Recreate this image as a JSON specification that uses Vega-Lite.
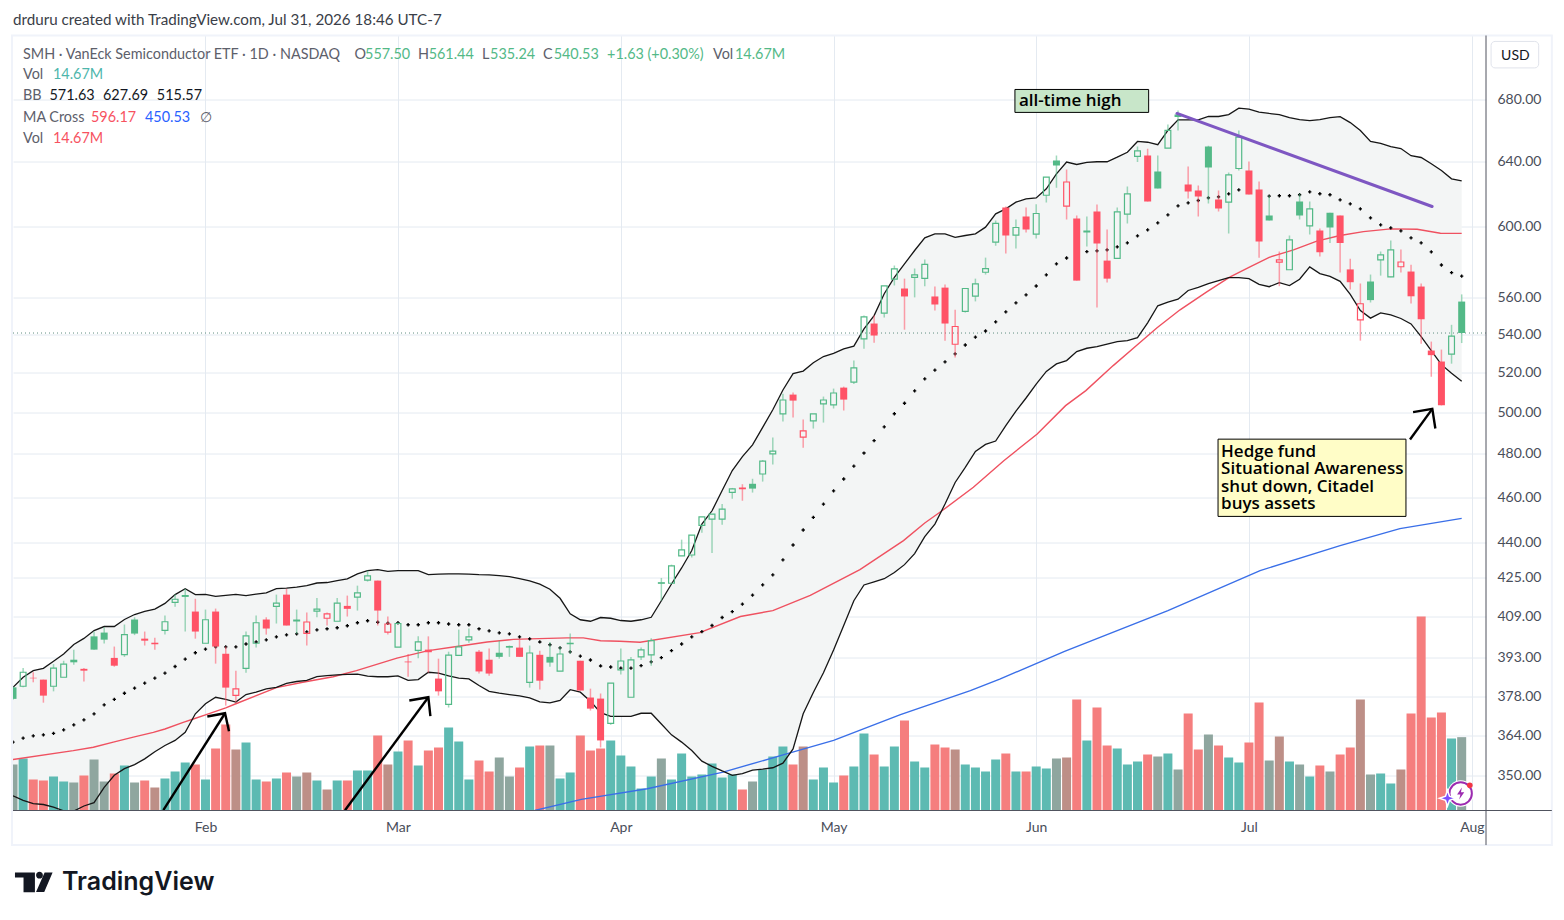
{
  "$schema": "https://vega.github.io/schema/vega-lite/v6.json",
  "background": "#ffffff",
  "autosize": {"type": "none"},
  "padding": {"left": 13, "top": 35.5, "right": 78, "bottom": 109.5},
  "width": 1473,
  "height": 775,
  "config": {"view": {"stroke": null}},
  "datasets": {
    "bars": [
      {"i":0,"open":381.6,"high":382,"low":377,"close":377.3,"dir":"up","volume":9.2,"tone":"gray","bbU":381.6,"bbL":343,"bbM":361.6},
      {"i":1,"open":382,"high":388.9,"low":381.6,"close":387.3,"dir":"up","volume":10.4,"tone":"teal","bbU":385.4,"bbL":341.5,"bbM":363},
      {"i":2,"open":385.2,"high":387.3,"low":383.5,"close":385,"dir":"down","volume":6.2,"tone":"salmon","bbU":387.9,"bbL":340.4,"bbM":363.8},
      {"i":3,"open":384.5,"high":384.5,"low":375.9,"close":378.5,"dir":"down","volume":6,"tone":"salmon","bbU":388.8,"bbL":340.1,"bbM":364.2},
      {"i":4,"open":382,"high":390.4,"low":380.1,"close":388.9,"dir":"up","volume":6.8,"tone":"teal","bbU":391.5,"bbL":339.2,"bbM":364.7},
      {"i":5,"open":385.4,"high":391.7,"low":385.4,"close":390.4,"dir":"up","volume":5.8,"tone":"teal","bbU":394.3,"bbL":338,"bbM":366},
      {"i":6,"open":392.1,"high":396,"low":390.2,"close":391.1,"dir":"up","volume":5.6,"tone":"gray","bbU":398,"bbL":337.9,"bbM":367.8},
      {"i":7,"open":388.6,"high":388.9,"low":383.8,"close":387.9,"dir":"down","volume":7,"tone":"salmon","bbU":400.4,"bbL":339.6,"bbM":369.6},
      {"i":8,"open":401.2,"high":403.1,"low":396,"close":396,"dir":"up","volume":10.2,"tone":"gray","bbU":403.5,"bbL":340.7,"bbM":371.8},
      {"i":9,"open":402.7,"high":404.8,"low":398.4,"close":399.9,"dir":"up","volume":5.8,"tone":"gray","bbU":405.1,"bbL":345.9,"bbM":375.1},
      {"i":10,"open":392.8,"high":397.2,"low":389.4,"close":389.8,"dir":"down","volume":7.4,"tone":"salmon","bbU":405.1,"bbL":350,"bbM":377.1},
      {"i":11,"open":394.1,"high":405.9,"low":393.2,"close":401.9,"dir":"up","volume":9,"tone":"teal","bbU":407.9,"bbL":352.3,"bbM":379.4},
      {"i":12,"open":407.9,"high":408.8,"low":401.7,"close":402.3,"dir":"up","volume":5.6,"tone":"gray","bbU":409.9,"bbL":353.7,"bbM":381.3},
      {"i":13,"open":400.3,"high":403.1,"low":397.6,"close":399.5,"dir":"down","volume":6,"tone":"salmon","bbU":411.2,"bbL":355.7,"bbM":383.2},
      {"i":14,"open":398.7,"high":400.7,"low":396,"close":398.1,"dir":"down","volume":4.6,"tone":"brown","bbU":412.1,"bbL":358.2,"bbM":385.1},
      {"i":15,"open":403.6,"high":409.5,"low":401.9,"close":407,"dir":"up","volume":6.4,"tone":"teal","bbU":414.4,"bbL":360.4,"bbM":387},
      {"i":16,"open":414.8,"high":418.2,"low":413,"close":416.1,"dir":"up","volume":7.8,"tone":"teal","bbU":418,"bbL":362.2,"bbM":389.5},
      {"i":17,"open":417.3,"high":420.4,"low":403.1,"close":417.6,"dir":"up","volume":9.6,"tone":"teal","bbU":420.4,"bbL":365.1,"bbM":392.3},
      {"i":18,"open":411.1,"high":416.3,"low":400.3,"close":403.1,"dir":"down","volume":9.2,"tone":"salmon","bbU":418,"bbL":371.8,"bbM":394.8},
      {"i":19,"open":398.5,"high":411.9,"low":398.5,"close":407.8,"dir":"up","volume":6.2,"tone":"teal","bbU":418.1,"bbL":375.5,"bbM":396.2},
      {"i":20,"open":411.1,"high":412.3,"low":390.6,"close":397.2,"dir":"down","volume":12.4,"tone":"salmon","bbU":417.3,"bbL":377.9,"bbM":397.1},
      {"i":21,"open":394.4,"high":397.2,"low":374.8,"close":381.5,"dir":"down","volume":17.2,"tone":"salmon","bbU":417.7,"bbL":377.1,"bbM":397.1},
      {"i":22,"open":378.6,"high":387.9,"low":376,"close":381,"dir":"down","volume":12.2,"tone":"brown","bbU":418.1,"bbL":376.1,"bbM":397.1},
      {"i":23,"open":388.8,"high":403.1,"low":387.1,"close":401.4,"dir":"up","volume":13.6,"tone":"teal","bbU":417.6,"bbL":378.9,"bbM":398.2},
      {"i":24,"open":398.5,"high":409.5,"low":396.8,"close":406.6,"dir":"up","volume":6.2,"tone":"teal","bbU":418.2,"bbL":379.8,"bbM":399},
      {"i":25,"open":407.9,"high":408.8,"low":401.9,"close":404.3,"dir":"down","volume":5.8,"tone":"salmon","bbU":418.7,"bbL":381,"bbM":399.8},
      {"i":26,"open":413.2,"high":418,"low":406.3,"close":414.5,"dir":"up","volume":6.4,"tone":"teal","bbU":420.5,"bbL":381.6,"bbM":401},
      {"i":27,"open":418,"high":420.4,"low":405.5,"close":405.5,"dir":"down","volume":7.6,"tone":"salmon","bbU":420.7,"bbL":383.1,"bbM":401.8},
      {"i":28,"open":407.9,"high":411.9,"low":402.2,"close":407.1,"dir":"up","volume":6.8,"tone":"gray","bbU":421.1,"bbL":383.8,"bbM":402.2},
      {"i":29,"open":402.4,"high":410.7,"low":397.6,"close":406.9,"dir":"down","volume":7.6,"tone":"brown","bbU":421.7,"bbL":384.2,"bbM":403},
      {"i":30,"open":411.3,"high":416.6,"low":408.8,"close":412.1,"dir":"up","volume":6,"tone":"teal","bbU":422.8,"bbL":385.6,"bbM":403.8},
      {"i":31,"open":408.4,"high":410.7,"low":405.5,"close":410.2,"dir":"down","volume":4.2,"tone":"brown","bbU":423,"bbL":386,"bbM":404.2},
      {"i":32,"open":407.2,"high":416.6,"low":407.2,"close":414.5,"dir":"up","volume":6,"tone":"teal","bbU":423.8,"bbL":386.3,"bbM":404.6},
      {"i":33,"open":413.4,"high":417.6,"low":409.1,"close":412.2,"dir":"down","volume":6,"tone":"salmon","bbU":424.5,"bbL":386.5,"bbM":405.4},
      {"i":34,"open":417,"high":421.7,"low":411.5,"close":418.7,"dir":"up","volume":8,"tone":"teal","bbU":426.6,"bbL":386.6,"bbM":406.6},
      {"i":35,"open":424,"high":428,"low":423.4,"close":425.8,"dir":"up","volume":8,"tone":"teal","bbU":428,"bbL":385.8,"bbM":407.4},
      {"i":36,"open":423.8,"high":423.8,"low":405.5,"close":411.5,"dir":"down","volume":15,"tone":"salmon","bbU":428.4,"bbL":385.6,"bbM":406.8},
      {"i":37,"open":402.9,"high":409.1,"low":401.9,"close":406.1,"dir":"down","volume":9.2,"tone":"brown","bbU":427.7,"bbL":385.6,"bbM":406.4},
      {"i":38,"open":397,"high":406.8,"low":397,"close":406.3,"dir":"up","volume":11.8,"tone":"teal","bbU":428,"bbL":385.9,"bbM":406.6},
      {"i":39,"open":391.4,"high":394.3,"low":385.6,"close":391.1,"dir":"down","volume":14,"tone":"salmon","bbU":428,"bbL":384.2,"bbM":405.8},
      {"i":40,"open":395.7,"high":401.2,"low":392.7,"close":399,"dir":"up","volume":9,"tone":"teal","bbU":428,"bbL":384.5,"bbM":405.8},
      {"i":41,"open":396,"high":401.2,"low":387.1,"close":395,"dir":"down","volume":12,"tone":"salmon","bbU":426.3,"bbL":387.3,"bbM":406.6},
      {"i":42,"open":384.9,"high":392.5,"low":378.5,"close":380.1,"dir":"down","volume":12.6,"tone":"salmon","bbU":426.5,"bbL":387,"bbM":406.6},
      {"i":43,"open":375.3,"high":395.2,"low":374.1,"close":393.9,"dir":"up","volume":16.6,"tone":"teal","bbU":426.6,"bbL":385.9,"bbM":406.1},
      {"i":44,"open":393.8,"high":403.9,"low":393.8,"close":397.1,"dir":"up","volume":13.8,"tone":"teal","bbU":426.6,"bbL":385.1,"bbM":405.8},
      {"i":45,"open":399.8,"high":404.3,"low":398.7,"close":401,"dir":"up","volume":6.2,"tone":"teal","bbU":426.5,"bbL":384.8,"bbM":405.8},
      {"i":46,"open":395.2,"high":395.9,"low":386.8,"close":387.6,"dir":"down","volume":10,"tone":"salmon","bbU":426.3,"bbL":382.3,"bbM":404.2},
      {"i":47,"open":392.1,"high":396.4,"low":386,"close":386.8,"dir":"down","volume":7.8,"tone":"salmon","bbU":426.2,"bbL":380.1,"bbM":403.4},
      {"i":48,"open":394.8,"high":399.5,"low":392.5,"close":393.2,"dir":"up","volume":10.6,"tone":"gray","bbU":425.9,"bbL":379.4,"bbM":402.6},
      {"i":49,"open":397,"high":397.6,"low":393.2,"close":397.2,"dir":"up","volume":6.8,"tone":"gray","bbU":425.5,"bbL":378.9,"bbM":402.2},
      {"i":50,"open":396.8,"high":399.9,"low":393.2,"close":393.2,"dir":"down","volume":8.6,"tone":"salmon","bbU":424.6,"bbL":378.4,"bbM":401},
      {"i":51,"open":383.5,"high":397.6,"low":381.5,"close":394.7,"dir":"up","volume":12.8,"tone":"teal","bbU":423.7,"bbL":377.7,"bbM":400.2},
      {"i":52,"open":394,"high":395.6,"low":380.8,"close":384.1,"dir":"down","volume":13,"tone":"salmon","bbU":422.3,"bbL":376.2,"bbM":399},
      {"i":53,"open":393.2,"high":399,"low":389.4,"close":391,"dir":"up","volume":13,"tone":"gray","bbU":420.2,"bbL":375.8,"bbM":397.9},
      {"i":54,"open":387.7,"high":397.2,"low":387.7,"close":394.3,"dir":"up","volume":6.4,"tone":"teal","bbU":416.5,"bbL":376.7,"bbM":396.7},
      {"i":55,"open":398.7,"high":402.3,"low":394.4,"close":398.1,"dir":"up","volume":7.6,"tone":"teal","bbU":410.2,"bbL":380.7,"bbM":395.1},
      {"i":56,"open":391.7,"high":391.7,"low":380.4,"close":380.4,"dir":"down","volume":15,"tone":"salmon","bbU":407.8,"bbL":379.8,"bbM":393.5},
      {"i":57,"open":377.8,"high":381.1,"low":373,"close":373.7,"dir":"down","volume":12,"tone":"salmon","bbU":407.2,"bbL":376.4,"bbM":392},
      {"i":58,"open":377.4,"high":379.3,"low":359.7,"close":362.2,"dir":"down","volume":12.4,"tone":"salmon","bbU":408.7,"bbL":372.2,"bbM":389.7},
      {"i":59,"open":368.3,"high":383.2,"low":367.8,"close":383.2,"dir":"up","volume":14,"tone":"teal","bbU":408.4,"bbL":370.9,"bbM":389.3},
      {"i":60,"open":388.2,"high":396.4,"low":386.4,"close":391.6,"dir":"up","volume":11,"tone":"teal","bbU":407.5,"bbL":370.9,"bbM":388.9},
      {"i":61,"open":377.9,"high":393.1,"low":377.9,"close":392,"dir":"up","volume":8.8,"tone":"teal","bbU":407.2,"bbL":370.9,"bbM":388.9},
      {"i":62,"open":393.2,"high":396.8,"low":392,"close":395.9,"dir":"up","volume":4.4,"tone":"teal","bbU":407.8,"bbL":372,"bbM":389.8},
      {"i":63,"open":394,"high":400.5,"low":389.8,"close":399.5,"dir":"up","volume":6.8,"tone":"teal","bbU":408.8,"bbL":372,"bbM":391.3},
      {"i":64,"open":422.7,"high":424.9,"low":415.5,"close":422.9,"dir":"up","volume":10.4,"tone":"gray","bbU":415.5,"bbL":368.1,"bbM":392.9},
      {"i":65,"open":422.7,"high":430.5,"low":422.7,"close":430,"dir":"up","volume":6.2,"tone":"teal","bbU":422.4,"bbL":364.2,"bbM":395.6},
      {"i":66,"open":434.2,"high":441.2,"low":434.2,"close":436.8,"dir":"up","volume":11.4,"tone":"teal","bbU":429.1,"bbL":361.6,"bbM":398.2},
      {"i":67,"open":434.6,"high":443.2,"low":433.5,"close":443.2,"dir":"up","volume":6.8,"tone":"teal","bbU":436.5,"bbL":358.6,"bbM":401},
      {"i":68,"open":447.4,"high":451.2,"low":444.2,"close":451.2,"dir":"up","volume":7.2,"tone":"teal","bbU":448,"bbL":354.9,"bbM":403.1},
      {"i":69,"open":450.2,"high":452.4,"low":435.4,"close":452.4,"dir":"up","volume":9.4,"tone":"teal","bbU":453.9,"bbL":353.1,"bbM":405.5},
      {"i":70,"open":450.2,"high":456.9,"low":447.7,"close":454.6,"dir":"up","volume":6.6,"tone":"teal","bbU":463,"bbL":351.5,"bbM":408.7},
      {"i":71,"open":462.2,"high":464.2,"low":459.3,"close":463.8,"dir":"up","volume":7.2,"tone":"teal","bbU":472.2,"bbL":350,"bbM":411.1},
      {"i":72,"open":464.4,"high":465.9,"low":458.4,"close":463.6,"dir":"down","volume":4.2,"tone":"salmon","bbU":478.7,"bbL":350.6,"bbM":414.1},
      {"i":73,"open":466.1,"high":468.4,"low":462.1,"close":463.9,"dir":"up","volume":5.8,"tone":"gray","bbU":484.3,"bbL":351.8,"bbM":417.8},
      {"i":74,"open":470.6,"high":477.1,"low":467.1,"close":476.6,"dir":"up","volume":8.2,"tone":"teal","bbU":492.7,"bbL":352.1,"bbM":422},
      {"i":75,"open":480,"high":487.8,"low":475,"close":481.3,"dir":"up","volume":10.8,"tone":"teal","bbU":501.3,"bbL":352.6,"bbM":426.2},
      {"i":76,"open":499.2,"high":509.2,"low":495.5,"close":506.1,"dir":"up","volume":12.8,"tone":"teal","bbU":511.1,"bbL":354.2,"bbM":432.5},
      {"i":77,"open":508.8,"high":509.8,"low":497.5,"close":505.8,"dir":"down","volume":9.2,"tone":"salmon","bbU":519.4,"bbL":359.2,"bbM":438.9},
      {"i":78,"open":488,"high":496.5,"low":482.9,"close":491,"dir":"down","volume":12.8,"tone":"brown","bbU":520.7,"bbL":371.8,"bbM":445.4},
      {"i":79,"open":495.8,"high":499.2,"low":492.1,"close":499.2,"dir":"up","volume":6.2,"tone":"teal","bbU":525,"bbL":379.7,"bbM":451},
      {"i":80,"open":504.2,"high":507.8,"low":495,"close":506.1,"dir":"up","volume":8.6,"tone":"teal","bbU":528.2,"bbL":387.1,"bbM":456.9},
      {"i":81,"open":503.7,"high":511.8,"low":501.9,"close":509.6,"dir":"up","volume":5.6,"tone":"teal","bbU":529.8,"bbL":395.9,"bbM":462.9},
      {"i":82,"open":512.3,"high":512.8,"low":500.9,"close":506.3,"dir":"down","volume":7,"tone":"salmon","bbU":532.2,"bbL":405.5,"bbM":468.3},
      {"i":83,"open":515.1,"high":526.1,"low":514.1,"close":522.3,"dir":"up","volume":8.8,"tone":"teal","bbU":533.6,"bbL":415.5,"bbM":474.3},
      {"i":84,"open":537.4,"high":549.9,"low":532.3,"close":549.2,"dir":"up","volume":15.4,"tone":"teal","bbU":542.7,"bbL":422,"bbM":480.4},
      {"i":85,"open":545.6,"high":549.9,"low":535.4,"close":539.2,"dir":"down","volume":11.2,"tone":"salmon","bbU":549.9,"bbL":423.3,"bbM":486.3},
      {"i":86,"open":551.2,"high":566.2,"low":548.8,"close":566.2,"dir":"up","volume":8.8,"tone":"teal","bbU":561.8,"bbL":424.6,"bbM":492.9},
      {"i":87,"open":569.9,"high":577.6,"low":566.4,"close":575.7,"dir":"up","volume":12.8,"tone":"teal","bbU":570.9,"bbL":427.2,"bbM":499.3},
      {"i":88,"open":564.7,"high":570.2,"low":542.3,"close":560.3,"dir":"down","volume":18,"tone":"salmon","bbU":578.5,"bbL":430.5,"bbM":504.5},
      {"i":89,"open":570.9,"high":575.9,"low":559.8,"close":572.3,"dir":"up","volume":9.8,"tone":"teal","bbU":586.2,"bbL":435.2,"bbM":510.7},
      {"i":90,"open":570.4,"high":581,"low":566,"close":578.2,"dir":"up","volume":8.6,"tone":"teal","bbU":593.5,"bbL":442.5,"bbM":516.7},
      {"i":91,"open":560.3,"high":565.8,"low":552.6,"close":555.9,"dir":"down","volume":13.2,"tone":"salmon","bbU":595.9,"bbL":448,"bbM":521.2},
      {"i":92,"open":565.2,"high":566.9,"low":536.5,"close":545.6,"dir":"down","volume":12.6,"tone":"salmon","bbU":595.9,"bbL":456.9,"bbM":525.4},
      {"i":93,"open":534.6,"high":553.1,"low":527.7,"close":544,"dir":"down","volume":12.2,"tone":"brown","bbU":593.8,"bbL":466.7,"bbM":529.6},
      {"i":94,"open":552.2,"high":564.7,"low":551.5,"close":564.7,"dir":"up","volume":9.2,"tone":"teal","bbU":594.9,"bbL":473.7,"bbM":534.2},
      {"i":95,"open":560.5,"high":570.2,"low":557.6,"close":567.3,"dir":"up","volume":8.6,"tone":"teal","bbU":595.9,"bbL":481.2,"bbM":538.4},
      {"i":96,"open":573.8,"high":582.1,"low":572.5,"close":575.9,"dir":"up","volume":7.8,"tone":"teal","bbU":599.8,"bbL":484.5,"bbM":541.6},
      {"i":97,"open":591,"high":603.7,"low":589,"close":602,"dir":"up","volume":10.2,"tone":"teal","bbU":607.7,"bbL":486.1,"bbM":546.5},
      {"i":98,"open":611.5,"high":612.1,"low":584.4,"close":594.9,"dir":"down","volume":11.4,"tone":"salmon","bbU":610.7,"bbL":493.5,"bbM":551.9},
      {"i":99,"open":595.1,"high":604.3,"low":587.4,"close":599.6,"dir":"up","volume":7.8,"tone":"teal","bbU":614.7,"bbL":500.6,"bbM":556.8},
      {"i":100,"open":606.1,"high":611.5,"low":596.6,"close":598.4,"dir":"down","volume":7.8,"tone":"salmon","bbU":616.7,"bbL":507.1,"bbM":561.2},
      {"i":101,"open":595.7,"high":613.4,"low":593.2,"close":607.9,"dir":"up","volume":8.8,"tone":"teal","bbU":617.3,"bbL":514.1,"bbM":566.1},
      {"i":102,"open":618.9,"high":630,"low":614.5,"close":630,"dir":"up","volume":8.4,"tone":"teal","bbU":622.8,"bbL":520.5,"bbM":572.3},
      {"i":103,"open":640.4,"high":643.5,"low":623.5,"close":637.2,"dir":"up","volume":10.4,"tone":"gray","bbU":632,"bbL":524.4,"bbM":578.5},
      {"i":104,"open":612.3,"high":634.7,"low":604.3,"close":627,"dir":"down","volume":10.6,"tone":"brown","bbU":639.4,"bbL":526.1,"bbM":581.9},
      {"i":105,"open":604.9,"high":606.7,"low":569.1,"close":569.1,"dir":"down","volume":22.2,"tone":"salmon","bbU":637.9,"bbL":530.8,"bbM":583.3},
      {"i":106,"open":597.8,"high":606.1,"low":588.5,"close":596.6,"dir":"up","volume":14,"tone":"teal","bbU":639.2,"bbL":532.5,"bbM":585.5},
      {"i":107,"open":609.1,"high":613.3,"low":554.3,"close":590.2,"dir":"down","volume":20.6,"tone":"salmon","bbU":639.6,"bbL":533.3,"bbM":586},
      {"i":108,"open":580.4,"high":598.4,"low":568,"close":570.2,"dir":"down","volume":13,"tone":"salmon","bbU":639.6,"bbL":534.7,"bbM":586.6},
      {"i":109,"open":581.7,"high":611.5,"low":581.7,"close":608.9,"dir":"up","volume":12.4,"tone":"teal","bbU":642.5,"bbL":536,"bbM":588.3},
      {"i":110,"open":607.5,"high":624.2,"low":602,"close":619.7,"dir":"up","volume":9.2,"tone":"teal","bbU":645.6,"bbL":536.5,"bbM":590.6},
      {"i":111,"open":643,"high":649.3,"low":639.4,"close":646.5,"dir":"up","volume":9.8,"tone":"teal","bbU":652.5,"bbL":538.1,"bbM":594.7},
      {"i":112,"open":643.5,"high":647.9,"low":615.1,"close":615.1,"dir":"down","volume":11.2,"tone":"salmon","bbU":652,"bbL":546,"bbM":598.2},
      {"i":113,"open":633.5,"high":643.5,"low":623,"close":623,"dir":"up","volume":10.8,"tone":"gray","bbU":650.4,"bbL":555.2,"bbM":602.3},
      {"i":114,"open":648.2,"high":663.5,"low":648.2,"close":659.6,"dir":"up","volume":11.4,"tone":"teal","bbU":659.6,"bbL":557.2,"bbM":607.1},
      {"i":115,"open":670,"high":672.7,"low":659.6,"close":668.3,"dir":"up","volume":8.2,"tone":"gray","bbU":666.5,"bbL":558.8,"bbM":612.5},
      {"i":116,"open":625.4,"high":636.6,"low":616.9,"close":621.2,"dir":"down","volume":19.4,"tone":"salmon","bbU":666.5,"bbL":563.6,"bbM":614.3},
      {"i":117,"open":621.8,"high":624.8,"low":606.1,"close":618.2,"dir":"down","volume":12.2,"tone":"salmon","bbU":666.5,"bbL":565.3,"bbM":615.7},
      {"i":118,"open":649.2,"high":649.8,"low":613.9,"close":636,"dir":"up","volume":15.2,"tone":"gray","bbU":668.7,"bbL":567.4,"bbM":617.3},
      {"i":119,"open":616.3,"high":621.8,"low":609.1,"close":610.9,"dir":"down","volume":13,"tone":"salmon","bbU":668.7,"bbL":569.1,"bbM":617.9},
      {"i":120,"open":614.7,"high":632.9,"low":596.1,"close":631.4,"dir":"up","volume":10.6,"tone":"teal","bbU":670,"bbL":570.8,"bbM":619.7},
      {"i":121,"open":635.4,"high":659.6,"low":634.1,"close":655.3,"dir":"up","volume":9.6,"tone":"teal","bbU":674.2,"bbL":570.8,"bbM":622.2},
      {"i":122,"open":634.1,"high":639.8,"low":619.4,"close":619.4,"dir":"down","volume":13.6,"tone":"salmon","bbU":673.6,"bbL":570.2,"bbM":622.6},
      {"i":123,"open":622.4,"high":627.3,"low":582.1,"close":591.4,"dir":"down","volume":21.6,"tone":"salmon","bbU":671.6,"bbL":567,"bbM":620},
      {"i":124,"open":606.7,"high":618.7,"low":603.7,"close":603.7,"dir":"up","volume":10,"tone":"gray","bbU":670.7,"bbL":565.7,"bbM":618.4},
      {"i":125,"open":579.5,"high":585.6,"low":566,"close":580.8,"dir":"down","volume":14.8,"tone":"brown","bbU":670,"bbL":568,"bbM":618.6},
      {"i":126,"open":575.2,"high":594.9,"low":575.2,"close":592.4,"dir":"up","volume":9.8,"tone":"teal","bbU":668,"bbL":566.3,"bbM":618.6},
      {"i":127,"open":615.1,"high":620,"low":604.3,"close":606.7,"dir":"up","volume":9.2,"tone":"gray","bbU":666.7,"bbL":569.9,"bbM":619.2},
      {"i":128,"open":600.6,"high":615.1,"low":595.5,"close":610.7,"dir":"up","volume":6.8,"tone":"teal","bbU":666,"bbL":576.8,"bbM":621},
      {"i":129,"open":597.8,"high":599,"low":582.7,"close":585.2,"dir":"down","volume":9,"tone":"salmon","bbU":666.7,"bbL":573,"bbM":619.8},
      {"i":130,"open":608.3,"high":608.3,"low":590.5,"close":599.6,"dir":"up","volume":7.8,"tone":"gray","bbU":668,"bbL":571.5,"bbM":619.2},
      {"i":131,"open":606.7,"high":606.7,"low":573.7,"close":590.5,"dir":"down","volume":11.2,"tone":"salmon","bbU":668.6,"bbL":568.7,"bbM":616.1},
      {"i":132,"open":575.4,"high":581.5,"low":564.2,"close":568.2,"dir":"down","volume":12.6,"tone":"salmon","bbU":664.7,"bbL":561.4,"bbM":613.7},
      {"i":133,"open":547.6,"high":567.5,"low":536.5,"close":556.3,"dir":"down","volume":22.2,"tone":"brown","bbU":659.6,"bbL":552.6,"bbM":610.7},
      {"i":134,"open":568.6,"high":572.5,"low":557,"close":558.3,"dir":"up","volume":7.2,"tone":"gray","bbU":652.5,"bbL":548.5,"bbM":605.3},
      {"i":135,"open":580.8,"high":585.6,"low":571.9,"close":583.7,"dir":"up","volume":7.4,"tone":"teal","bbU":651.2,"bbL":551.3,"bbM":601.1},
      {"i":136,"open":571.2,"high":592,"low":571,"close":586.6,"dir":"up","volume":5.4,"tone":"teal","bbU":649.2,"bbL":550.2,"bbM":599.4},
      {"i":137,"open":576.9,"high":586.8,"low":573.7,"close":579.6,"dir":"down","volume":8.2,"tone":"brown","bbU":648,"bbL":548.3,"bbM":597.6},
      {"i":138,"open":574.2,"high":578.1,"low":556.5,"close":560.4,"dir":"down","volume":19.4,"tone":"salmon","bbU":643.4,"bbL":545.4,"bbM":593.5},
      {"i":139,"open":565.8,"high":567.5,"low":534.9,"close":547.9,"dir":"down","volume":38.8,"tone":"salmon","bbU":642.3,"bbL":538.6,"bbM":590.6},
      {"i":140,"open":531.3,"high":536,"low":517.8,"close":528.9,"dir":"down","volume":18.6,"tone":"salmon","bbU":638.4,"bbL":531.3,"bbM":585.4},
      {"i":141,"open":525.6,"high":531.8,"low":503.4,"close":503.5,"dir":"down","volume":19.6,"tone":"salmon","bbU":634.1,"bbL":524,"bbM":577.9},
      {"i":142,"open":529.4,"high":544.9,"low":524.5,"close":538.9,"dir":"up","volume":14.4,"tone":"teal","bbU":629,"bbL":519.6,"bbM":573.6},
      {"i":143,"open":557.5,"high":561.44,"low":535.24,"close":540.53,"dir":"up","volume":14.67,"tone":"gray","bbU":627.69,"bbL":515.57,"bbM":571.63}
    ],
    "ma50": [
      {"i":0,"value":355.5},{"i":5.95,"value":358.6},{"i":7.93,"value":359.8},{"i":9.9,"value":361.6},{"i":11.88,"value":363.4},{"i":13.85,"value":365.1},{"i":15,"value":366.3},{"i":16.8,"value":368.7},{"i":17.8,"value":369.9},{"i":19,"value":371.4},{"i":21,"value":374},{"i":22,"value":375.5},{"i":26,"value":381.5},{"i":28.6,"value":383.5},{"i":31.6,"value":385.6},{"i":33.9,"value":387.9},{"i":37.9,"value":392.7},{"i":41,"value":395.6},{"i":43.8,"value":397.2},{"i":46.8,"value":399},{"i":49.4,"value":400},{"i":51,"value":400.2},{"i":54.7,"value":400.6},{"i":56.3,"value":400.6},{"i":58,"value":399.5},{"i":59.9,"value":399.3},{"i":61.9,"value":398.9},{"i":67.8,"value":402.7},{"i":71.8,"value":409.1},{"i":75,"value":411.5},{"i":78.7,"value":417.7},{"i":83.6,"value":428.4},{"i":87.9,"value":440.8},{"i":90,"value":448.5},{"i":91.7,"value":453.9},{"i":94.8,"value":464.5},{"i":97.8,"value":476.8},{"i":101.1,"value":489.5},{"i":103.9,"value":503.3},{"i":105.9,"value":510.8},{"i":108.6,"value":523.5},{"i":110.9,"value":533.9},{"i":112.9,"value":543.2},{"i":115.2,"value":553},{"i":117.8,"value":562.7},{"i":120.1,"value":571},{"i":122.1,"value":576.9},{"i":124,"value":582.3},{"i":126.4,"value":586.6},{"i":128.7,"value":591.6},{"i":131,"value":594.9},{"i":133.3,"value":597.2},{"i":136,"value":598.8},{"i":138.6,"value":598.6},{"i":140.9,"value":596.2},{"i":143,"value":596.17}
    ],
    "ma200": [
      {"i":51.5,"value":338.1},{"i":56.1,"value":341.8},{"i":62.6,"value":345.4},{"i":70.1,"value":351.1},{"i":76.7,"value":357.8},{"i":81,"value":362.2},{"i":87.6,"value":371.5},{"i":94.5,"value":380.4},{"i":97.4,"value":384.7},{"i":103.8,"value":395.3},{"i":114,"value":411.5},{"i":123.1,"value":428},{"i":131,"value":438.6},{"i":136.9,"value":446},{"i":143,"value":450.53}
    ],
    "arrows": [
      {"path":"a","seq":0,"i":14.84,"price":338.2},{"path":"a","seq":1,"i":20.93,"price":372},
      {"path":"ah","seq":0,"i":19.18,"price":370.8},{"path":"ah","seq":1,"i":20.93,"price":372},{"path":"ah","seq":2,"i":21.32,"price":365.5},
      {"path":"b","seq":0,"i":32.77,"price":338.2},{"path":"b","seq":1,"i":41,"price":377.9},
      {"path":"bh","seq":0,"i":39.12,"price":376.7},{"path":"bh","seq":1,"i":41,"price":377.9},{"path":"bh","seq":2,"i":41.2,"price":371},
      {"path":"c","seq":0,"i":137.9,"price":486.8},{"path":"c","seq":1,"i":140.1,"price":501.7},
      {"path":"ch","seq":0,"i":138.2,"price":500.1},{"path":"ch","seq":1,"i":140.1,"price":501.7},{"path":"ch","seq":2,"i":140.4,"price":492.1}
    ],
    "notes": [
      {"i":0.99,"price":710.7,"label":"SMH · VanEck Semiconductor ETF · 1D · NASDAQ","role":"gray"},
      {"i":33.72,"price":710.7,"label":"O","role":"gray"},
      {"i":34.75,"price":710.7,"label":"557.50","role":"green"},
      {"i":39.98,"price":710.7,"label":"H","role":"gray"},
      {"i":41.03,"price":710.7,"label":"561.44","role":"green"},
      {"i":46.3,"price":710.7,"label":"L","role":"gray"},
      {"i":47.09,"price":710.7,"label":"535.24","role":"green"},
      {"i":52.32,"price":710.7,"label":"C","role":"gray"},
      {"i":53.37,"price":710.7,"label":"540.53","role":"green"},
      {"i":58.64,"price":710.7,"label":"+1.63 (+0.30%)","role":"green"},
      {"i":69.1,"price":710.7,"label":"Vol","role":"gray"},
      {"i":71.27,"price":710.7,"label":"14.67M","role":"green"},
      {"i":0.99,"price":696.2,"label":"Vol","role":"gray"},
      {"i":3.95,"price":696.2,"label":"14.67M","role":"teal"},
      {"i":0.99,"price":682,"label":"BB","role":"gray"},
      {"i":3.6,"price":682,"label":"571.63","role":"black"},
      {"i":8.88,"price":682,"label":"627.69","role":"black"},
      {"i":14.2,"price":682,"label":"515.57","role":"black"},
      {"i":0.99,"price":668,"label":"MA Cross","role":"gray"},
      {"i":7.7,"price":668,"label":"596.17","role":"red"},
      {"i":13.03,"price":668,"label":"450.53","role":"blue"},
      {"i":18.46,"price":668,"label":"∅","role":"gray"},
      {"i":0.99,"price":654,"label":"Vol","role":"gray"},
      {"i":3.95,"price":654,"label":"14.67M","role":"red"}
    ]
  },
  "encoding": {
    "x": {
      "field": "i", "type": "quantitative",
      "scale": {"domain": [0, 145.4], "nice": false, "zero": false, "padding": 0},
      "axis": {
        "title": null, "orient": "bottom", "values": [19, 38, 60, 81, 101, 122, 144],
        "labelExpr": "datum.value==19?'Feb':datum.value==38?'Mar':datum.value==60?'Apr':datum.value==81?'May':datum.value==101?'Jun':datum.value==122?'Jul':'Aug'",
        "domain": false, "ticks": false, "grid": true, "gridColor": "#e4eaf1", "gridWidth": 1,
        "labelFont": "Lato", "labelFontSize": 14, "labelColor": "#4a4e5a", "labelPadding": 10, "labelFlush": false
      }
    }
  },
  "resolve": {"scale": {"y": "independent"}},
  "layer": [
    {
      "data": {"name": "bars"},
      "mark": {"type": "area", "color": "#f3f5f5", "clip": true},
      "encoding": {
        "y": {
          "field": "bbU", "type": "quantitative",
          "scale": {"type": "log", "domain": [338.1, 724.1], "nice": false},
          "axis": {
            "title": null, "orient": "right", "values": [350, 364, 378, 393, 409, 425, 440, 460, 480, 500, 520, 540, 560, 600, 640, 680],
            "format": ".2f", "domain": false, "ticks": false, "grid": true, "gridColor": "#e4eaf1", "gridWidth": 1,
            "labelFont": "Lato", "labelFontSize": 14, "labelColor": "#4a4e5a", "labelPadding": 11
          }
        },
        "y2": {"field": "bbL"}
      }
    },
    {
      "data": {"name": "bars"},
      "mark": {"type": "bar", "orient": "vertical", "size": 9, "clip": true},
      "encoding": {
        "y": {"field": "volume", "type": "quantitative", "stack": null, "scale": {"domain": [0, 155], "nice": false}, "axis": null},
        "fill": {
          "field": "tone", "type": "nominal", "legend": null,
          "scale": {"domain": ["teal", "salmon", "gray", "brown"], "range": ["#5dbab2", "#f57e7e", "#8fa69f", "#bd8f87"]}
        }
      }
    },
    {
      "layer": [
        {
          "data": {"name": "ma50"},
          "mark": {"type": "line", "color": "#ef5160", "strokeWidth": 1.4, "clip": true},
          "encoding": {
            "y": {"field": "value", "type": "quantitative", "scale": {"type": "log", "domain": [338.1, 724.1], "nice": false}, "axis": null}
          }
        },
        {
          "data": {"name": "ma200"},
          "mark": {"type": "line", "color": "#3a6fe8", "strokeWidth": 1.4, "clip": true},
          "encoding": {"y": {"field": "value", "type": "quantitative", "axis": null}}
        },
        {
          "data": {"values": [{"i": 0, "i2": 145.4, "lastClose": 540.53}]},
          "mark": {"type": "rule", "color": "#5f8d80", "strokeWidth": 1, "strokeDash": [1, 3]},
          "encoding": {
            "x2": {"field": "i2"},
            "y": {"field": "lastClose", "type": "quantitative", "axis": null}
          }
        },
        {
          "data": {"name": "bars"},
          "mark": {"type": "line", "color": "#161616", "strokeWidth": 1.3, "clip": true},
          "encoding": {"y": {"field": "bbU", "type": "quantitative", "axis": null}}
        },
        {
          "data": {"name": "bars"},
          "mark": {"type": "line", "color": "#161616", "strokeWidth": 1.3, "clip": true},
          "encoding": {"y": {"field": "bbL", "type": "quantitative", "axis": null}}
        },
        {
          "data": {"name": "bars"},
          "mark": {"type": "point", "shape": "cross", "filled": true, "color": "#000000", "size": 11, "opacity": 1, "clip": true},
          "encoding": {"y": {"field": "bbM", "type": "quantitative", "axis": null}}
        },
        {
          "data": {"name": "bars"},
          "transform": [{"filter": "datum.close < datum.open"}],
          "mark": {"type": "rule", "strokeWidth": 1.5, "opacity": 0.55, "clip": true},
          "encoding": {
            "y": {"field": "high", "type": "quantitative", "axis": null},
            "y2": {"field": "low"},
            "color": {"field": "dir", "type": "nominal", "legend": null, "scale": {"domain": ["up", "down", "dark", "gray", "green", "teal", "black", "red", "blue"], "range": ["#53b987", "#ff5266", "#3a3e48", "#5d606b", "#53b987", "#4db6ac", "#131722", "#f7525f", "#2962ff"]}}
          }
        },
        {
          "data": {"name": "bars"},
          "transform": [{"filter": "datum.close >= datum.open"}],
          "mark": {"type": "rule", "strokeWidth": 1.5, "opacity": 0.55, "clip": true},
          "encoding": {
            "y": {"field": "high", "type": "quantitative", "axis": null},
            "y2": {"field": "close"},
            "color": {"field": "dir", "type": "nominal", "legend": null}
          }
        },
        {
          "data": {"name": "bars"},
          "transform": [{"filter": "datum.close >= datum.open"}],
          "mark": {"type": "rule", "strokeWidth": 1.5, "opacity": 0.55, "clip": true},
          "encoding": {
            "y": {"field": "open", "type": "quantitative", "axis": null},
            "y2": {"field": "low"},
            "color": {"field": "dir", "type": "nominal", "legend": null}
          }
        },
        {
          "data": {"name": "bars"},
          "transform": [{"filter": "datum.close < datum.open"}],
          "mark": {"type": "bar", "orient": "vertical", "size": 7, "clip": true},
          "encoding": {
            "y": {"field": "open", "type": "quantitative", "axis": null},
            "y2": {"field": "close"},
            "color": {"field": "dir", "type": "nominal", "legend": null}
          }
        },
        {
          "data": {"name": "bars"},
          "transform": [{"filter": "datum.close >= datum.open"}],
          "mark": {"type": "bar", "orient": "vertical", "size": 5.8, "fill": "transparent", "strokeWidth": 1.2, "clip": true},
          "encoding": {
            "y": {"field": "open", "type": "quantitative", "axis": null},
            "y2": {"field": "close"},
            "stroke": {"field": "dir", "type": "nominal", "legend": null, "scale": {"domain": ["up", "down"], "range": ["#53b987", "#ff5266"]}}
          }
        },
        {
          "data": {"values": [{"seq": 0, "i": 114.9, "price": 670.7}, {"seq": 1, "i": 140.08, "price": 612.1}]},
          "mark": {"type": "line", "color": "#7e57c2", "strokeWidth": 3, "strokeCap": "round"},
          "encoding": {
            "y": {"field": "price", "type": "quantitative", "axis": null},
            "order": {"field": "seq"}
          }
        },
        {
          "data": {"name": "arrows"},
          "mark": {"type": "line", "color": "#000000", "strokeWidth": 2.4, "clip": true},
          "encoding": {
            "y": {"field": "price", "type": "quantitative", "axis": null},
            "detail": {"field": "path"},
            "order": {"field": "seq"}
          }
        },
        {
          "data": {"values": [{"i": 98.9, "i2": 112.1, "price": 686.7, "price2": 671.4}]},
          "mark": {"type": "rect", "fill": "#c8e6c9", "stroke": "#000000", "strokeWidth": 1},
          "encoding": {
            "x2": {"field": "i2"},
            "y": {"field": "price", "type": "quantitative", "axis": null},
            "y2": {"field": "price2"}
          }
        },
        {
          "data": {"values": [{"i": 118.95, "i2": 137.5, "price": 487, "price2": 451.4}]},
          "mark": {"type": "rect", "fill": "#fffdc7", "stroke": "#000000", "strokeWidth": 1},
          "encoding": {
            "x2": {"field": "i2"},
            "y": {"field": "price", "type": "quantitative", "axis": null},
            "y2": {"field": "price2"}
          }
        },
        {
          "data": {"values": [
            {"i": 99.3, "price": 678.7, "label": "all-time high"},
            {"i": 119.25, "price": 481, "label": "Hedge fund"},
            {"i": 119.25, "price": 473.1, "label": "Situational Awareness"},
            {"i": 119.25, "price": 464.8, "label": "shut down, Citadel"},
            {"i": 119.25, "price": 457, "label": "buys assets"}
          ]},
          "mark": {"type": "text", "align": "left", "baseline": "middle", "font": "Open Sans", "fontSize": 17, "fontWeight": 600, "color": "#000000"},
          "encoding": {
            "y": {"field": "price", "type": "quantitative", "axis": null},
            "text": {"field": "label"}
          }
        },
        {
          "data": {"values": [{"i": -0.1, "i2": 151.9, "price": 724.1, "price2": 326.8}]},
          "mark": {"type": "rect", "fill": "transparent", "stroke": "#f0f3fa", "strokeWidth": 2},
          "encoding": {
            "x2": {"field": "i2"},
            "y": {"field": "price", "type": "quantitative", "axis": null},
            "y2": {"field": "price2"}
          }
        },
        {
          "data": {"values": [
            {"i": 0, "i2": 151.9, "price": 338.1, "price2": 338.1},
            {"i": 145.4, "i2": 145.4, "price": 724.1, "price2": 326.8}
          ]},
          "mark": {"type": "rule", "color": "#50535e", "strokeWidth": 1},
          "encoding": {
            "x2": {"field": "i2"},
            "y": {"field": "price", "type": "quantitative", "axis": null},
            "y2": {"field": "price2"}
          }
        },
        {
          "data": {"values": [{"i": 145.9, "i2": 150.6, "price": 719.9, "price2": 701.4}]},
          "mark": {"type": "rect", "fill": "#ffffff", "stroke": "#e0e3eb", "strokeWidth": 1, "cornerRadius": 4},
          "encoding": {
            "x2": {"field": "i2"},
            "y": {"field": "price", "type": "quantitative", "axis": null},
            "y2": {"field": "price2"}
          }
        },
        {
          "data": {"values": [{"i": 148.3, "price": 710, "label": "USD"}]},
          "mark": {"type": "text", "align": "center", "baseline": "middle", "font": "Lato", "fontSize": 14, "color": "#131722"},
          "encoding": {
            "y": {"field": "price", "type": "quantitative", "axis": null},
            "text": {"field": "label"}
          }
        },
        {
          "data": {"values": [{"i": 0, "price": 734.9, "label": "drduru created with TradingView.com, Jul 31, 2026 18:46 UTC-7"}]},
          "mark": {"type": "text", "align": "left", "baseline": "middle", "font": "Lato", "fontSize": 15.2, "color": "#3a3e48"},
          "encoding": {
            "y": {"field": "price", "type": "quantitative", "axis": null},
            "text": {"field": "label"}
          }
        },
        {
          "data": {"name": "notes"},
          "mark": {"type": "text", "align": "left", "baseline": "middle", "font": "Lato", "fontSize": 14.4},
          "encoding": {
            "y": {"field": "price", "type": "quantitative", "axis": null},
            "text": {"field": "label"},
            "color": {"field": "role", "type": "nominal", "legend": null}
          }
        },
        {
          "data": {"values": [{"i": 2.07, "price": 315.1}]},
          "mark": {
            "type": "point", "filled": true, "opacity": 1, "color": "#131722", "size": 1444,
            "shape": "M-1,-0.51 L0.05,-0.51 L0.05,0.53 L-0.55,0.53 L-0.55,-0.25 L-1,-0.25 Z M0.56,-0.51 L0.98,-0.51 L0.54,0.51 L0.11,0.51 Z M0.11,-0.37 A0.18,0.18 0 1,0 0.47,-0.37 A0.18,0.18 0 1,0 0.11,-0.37 Z"
          },
          "encoding": {"y": {"field": "price", "type": "quantitative", "axis": null}}
        },
        {
          "data": {"values": [{"i": 4.84, "price": 315.1, "label": "TradingView"}]},
          "mark": {"type": "text", "align": "left", "baseline": "middle", "font": "Inter", "fontSize": 25, "fontWeight": 600, "color": "#131722"},
          "encoding": {
            "y": {"field": "price", "type": "quantitative", "axis": null},
            "text": {"field": "label"}
          }
        },
        {
          "data": {"values": [{"i": 142.9, "price": 343.8}]},
          "mark": {"type": "point", "shape": "circle", "filled": true, "opacity": 1, "color": "#ffffff", "size": 700},
          "encoding": {"y": {"field": "price", "type": "quantitative", "axis": null}}
        },
        {
          "data": {"values": [{"i": 142.9, "price": 343.8}]},
          "mark": {"type": "point", "shape": "circle", "filled": false, "opacity": 1, "color": "#9c2bb0", "strokeWidth": 2, "size": 500},
          "encoding": {"y": {"field": "price", "type": "quantitative", "axis": null}}
        },
        {
          "data": {"values": [{"i": 142.9, "price": 343.8}]},
          "mark": {"type": "point", "filled": true, "opacity": 1, "color": "#9c2bb0", "size": 144, "shape": "M0.2,-1 L-0.6,0.15 L-0.05,0.15 L-0.25,1 L0.6,-0.2 L0.05,-0.2 Z"},
          "encoding": {"y": {"field": "price", "type": "quantitative", "axis": null}}
        },
        {
          "data": {"values": [{"i": 141.6, "price": 342.2}]},
          "mark": {"type": "point", "filled": true, "opacity": 1, "color": "#7c4dff", "stroke": "#ffffff", "strokeWidth": 1.5, "size": 256, "shape": "M0,-1 L0.25,-0.25 L1,0 L0.25,0.25 L0,1 L-0.25,0.25 L-1,0 L-0.25,-0.25 Z"},
          "encoding": {"y": {"field": "price", "type": "quantitative", "axis": null}}
        },
        {
          "data": {"values": [{"i": 143.8, "price": 346.6}]},
          "mark": {"type": "point", "shape": "circle", "filled": true, "opacity": 1, "color": "#f23645", "size": 32},
          "encoding": {"y": {"field": "price", "type": "quantitative", "axis": null}}
        }
      ]
    }
  ]
}
